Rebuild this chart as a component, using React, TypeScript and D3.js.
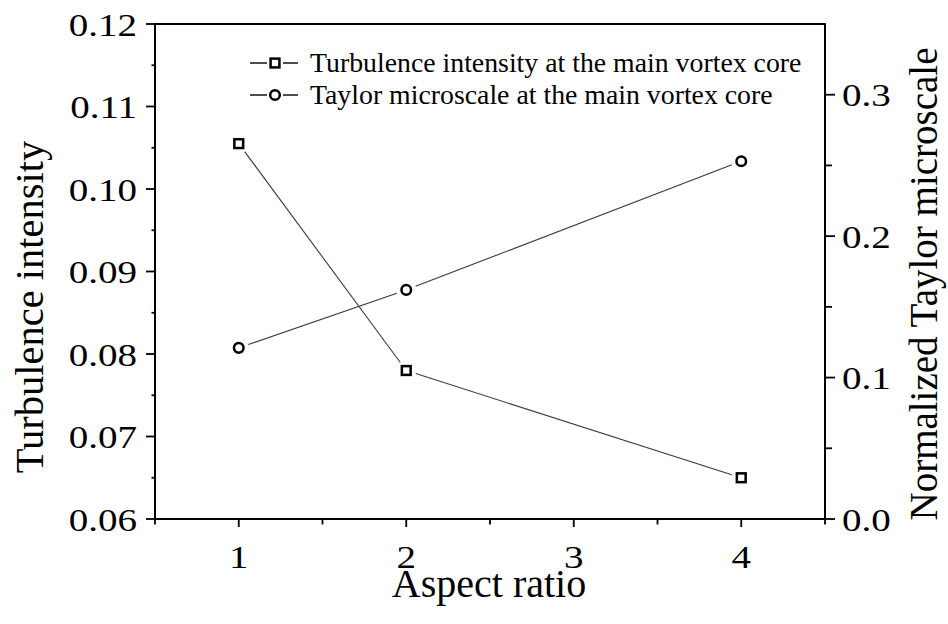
import React from "react";
import * as d3 from "d3";

const aspectRatios = [1, 2, 4];
const turbulenceIntensity = [0.1055, 0.078, 0.065];
const taylorMicroscale = [0.121, 0.162, 0.253];
const xTickValues = [1, 2, 3, 4];
const xMinorValues = [0.5, 1.5, 2.5, 3.5, 4.5];
const leftTickValues = [0.06, 0.07, 0.08, 0.09, 0.1, 0.11, 0.12];
const leftMinorValues = [0.065, 0.075, 0.085, 0.095, 0.105, 0.115];
const rightTickValues = [0, 0.1, 0.2, 0.3];
const rightMinorValues = [0.05, 0.15, 0.25];
const legendLabels = [
  "Turbulence intensity at the main vortex core",
  "Taylor microscale at the main vortex core",
];

const W = 948;
const H = 624;
const L = 155, R = 825, T = 24, B = 519;
const FONT = "'Liberation Serif', 'Times New Roman', serif";
const TICK_FS = 32;
const TICK_SX = 1.22;

const x = d3.scaleLinear().domain([0.5, 4.5]).range([L, R]);
const yL = d3.scaleLinear().domain([0.06, 0.12]).range([B, T]);
const yR = d3.scaleLinear().domain([0, 0.35]).range([B, T]);

function gappedSegments(pts: [number, number][], gap: number) {
  const segs: { x1: number; y1: number; x2: number; y2: number }[] = [];
  for (let i = 0; i < pts.length - 1; i++) {
    const [ax, ay] = pts[i];
    const [bx, by] = pts[i + 1];
    const dx = bx - ax, dy = by - ay;
    const len = Math.hypot(dx, dy);
    const ux = dx / len, uy = dy / len;
    segs.push({ x1: ax + ux * gap, y1: ay + uy * gap, x2: bx - ux * gap, y2: by - uy * gap });
  }
  return segs;
}

function Square({ cx, cy, s }: { cx: number; cy: number; s: number }) {
  return <rect x={cx - s / 2} y={cy - s / 2} width={s} height={s} fill="#fff" stroke="#000" strokeWidth={2.5} />;
}
function Circle({ cx, cy, r }: { cx: number; cy: number; r: number }) {
  return <circle cx={cx} cy={cy} r={r} fill="#fff" stroke="#000" strokeWidth={2.5} />;
}

export default function App() {
  const tiPts: [number, number][] = aspectRatios.map((a, i) => [x(a), yL(turbulenceIntensity[i])]);
  const tmPts: [number, number][] = aspectRatios.map((a, i) => [x(a), yR(taylorMicroscale[i])]);
  const lineColor = "#3a3a3a";
  return (
    <div style={{ position: "absolute", left: 0, top: 0 }}>
      <svg width={W} height={H} style={{ display: "block", background: "#fff" }} fontFamily={FONT}>
        <rect width={W} height={H} fill="#fff" />
        {gappedSegments(tiPts, 10).map((s, i) => (
          <line key={"ti" + i} {...s} stroke={lineColor} strokeWidth={1.1} />
        ))}
        {gappedSegments(tmPts, 10).map((s, i) => (
          <line key={"tm" + i} {...s} stroke={lineColor} strokeWidth={1.1} />
        ))}
        {tiPts.map(([cx, cy], i) => <Square key={"sq" + i} cx={cx} cy={cy} s={8.8} />)}
        {tmPts.map(([cx, cy], i) => <Circle key={"ci" + i} cx={cx} cy={cy} r={4.8} />)}

        <line x1={L} x2={R} y1={T} y2={T} stroke="#000" strokeWidth={2} />
        <line x1={L} x2={R} y1={B} y2={B} stroke="#000" strokeWidth={2} />
        <line x1={L} x2={L} y1={T - 1} y2={B + 1} stroke="#000" strokeWidth={2} />
        <line x1={R} x2={R} y1={T - 1} y2={B + 1} stroke="#000" strokeWidth={2} />

        {xTickValues.map((v) => (
          <g key={"xt" + v}>
            <line x1={x(v)} x2={x(v)} y1={B} y2={B + 8} stroke="#000" strokeWidth={1.8} />
            <text transform={`translate(${x(v)},${568}) scale(${TICK_SX},1)`} textAnchor="middle" fontSize={TICK_FS}>
              {String(v)}
            </text>
          </g>
        ))}
        {xMinorValues.map((v) => (
          <line key={"xm" + v} x1={x(v)} x2={x(v)} y1={B} y2={B + 5.5} stroke="#000" strokeWidth={1.8} />
        ))}

        {leftTickValues.map((v) => (
          <g key={"lt" + v}>
            <line x1={L - 9} x2={L} y1={yL(v)} y2={yL(v)} stroke="#000" strokeWidth={1.8} />
            <text transform={`translate(${137},${yL(v) + 11.5}) scale(${TICK_SX},1)`} textAnchor="end" fontSize={TICK_FS}>
              {d3.format(".2f")(v)}
            </text>
          </g>
        ))}
        {leftMinorValues.map((v) => (
          <line key={"lm" + v} x1={L - 3.5} x2={L} y1={yL(v)} y2={yL(v)} stroke="#000" strokeWidth={1.8} />
        ))}

        {rightTickValues.map((v) => (
          <g key={"rt" + v}>
            <line x1={R} x2={R + 10} y1={yR(v)} y2={yR(v)} stroke="#000" strokeWidth={1.8} />
            <text transform={`translate(${842},${yR(v) + 11.5}) scale(${TICK_SX},1)`} textAnchor="start" fontSize={TICK_FS}>
              {d3.format(".1f")(v)}
            </text>
          </g>
        ))}
        {rightMinorValues.map((v) => (
          <line key={"rm" + v} x1={R} x2={R + 7} y1={yR(v)} y2={yR(v)} stroke="#000" strokeWidth={1.8} />
        ))}

        <text x={489} y={597} textAnchor="middle" fontSize={40}>Aspect ratio</text>
        <text transform="translate(43,307) rotate(-90)" textAnchor="middle" fontSize={40.5}>Turbulence intensity</text>
        <text transform="translate(937,284) rotate(-90)" textAnchor="middle" fontSize={39}>Normalized Taylor microscale</text>

        {legendLabels.map((lab, i) => {
          const ly = 63 + i * 32;
          return (
            <g key={"lg" + i}>
              <line x1={250} x2={267} y1={ly} y2={ly} stroke="#000" strokeWidth={1.4} />
              <line x1={283} x2={298} y1={ly} y2={ly} stroke="#000" strokeWidth={1.4} />
              {i === 0 ? <Square cx={275} cy={ly} s={8.8} /> : <Circle cx={275} cy={ly} r={4.8} />}
              <text transform={`translate(310,${ly + 9}) scale(1.03,1)`} fontSize={27}>{lab}</text>
            </g>
          );
        })}
      </svg>
    </div>
  );
}
